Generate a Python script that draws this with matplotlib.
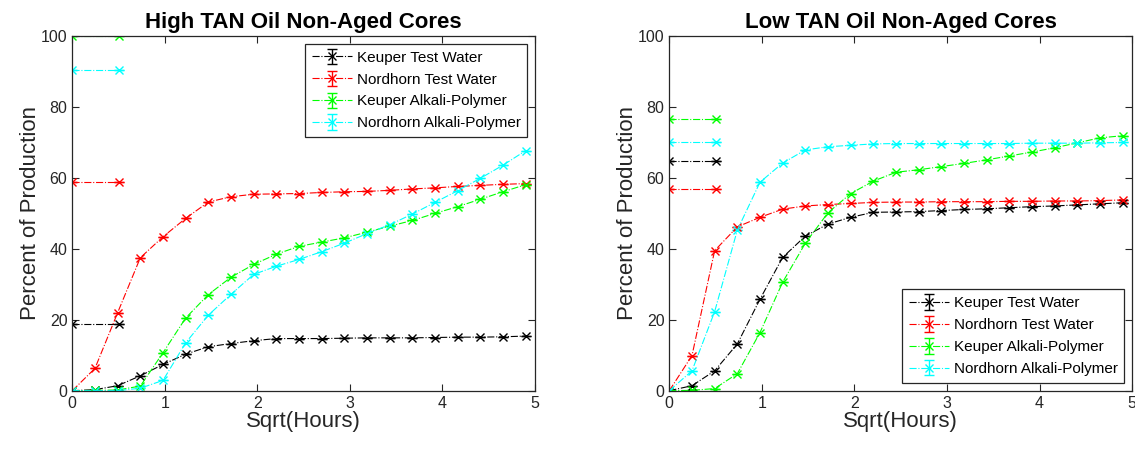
import numpy as np
import matplotlib
matplotlib.use("Agg")
import matplotlib.pyplot as plt

plt.rcParams['font.family'] = ['Liberation Sans', 'DejaVu Sans']

# sqrt(hours) sampling points
sqrt_hours = [0.0, 0.245, 0.49, 0.735, 0.98, 1.225, 1.47, 1.715, 1.96, 2.205,
              2.449, 2.694, 2.939, 3.184, 3.429, 3.674, 3.919, 4.164, 4.409,
              4.654, 4.899]

series_names = ["Keuper Test Water", "Nordhorn Test Water",
                "Keuper Alkali-Polymer", "Nordhorn Alkali-Polymer"]
series_colors = ["#000000", "#ff0000", "#00ff00", "#00ffff"]

# High TAN oil, non-aged cores (percent of production)
high_keuper_tw = [0.0, 0.3, 1.4, 4.2, 7.4, 10.3, 12.4, 13.3, 14.1, 14.7, 14.7,
                  14.7, 14.8, 14.9, 14.9, 14.9, 15.0, 15.1, 15.1, 15.2, 15.4]
high_nordhorn_tw = [0.0, 6.3, 22.0, 37.5, 43.4, 48.6, 53.2, 54.7, 55.4, 55.5,
                    55.6, 55.9, 56.1, 56.2, 56.5, 56.9, 57.2, 57.6, 57.9, 58.2, 58.4]
high_keuper_ap = [0.0, 0.1, 0.2, 1.3, 10.7, 20.5, 27.1, 32.0, 35.6, 38.5, 40.7,
                  41.9, 43.1, 44.7, 46.4, 48.0, 50.0, 51.9, 54.0, 56.1, 58.1]
high_nordhorn_ap = [0.0, 0.0, 0.0, 0.7, 2.9, 13.5, 21.3, 27.2, 32.8, 35.1, 37.0,
                    39.2, 41.6, 44.3, 46.8, 49.8, 53.1, 56.4, 59.9, 63.6, 67.7]
high_reference = [18.9, 58.9, 100.0, 90.3]

# Low TAN oil, non-aged cores (percent of production)
low_keuper_tw = [0.0, 1.4, 5.6, 13.2, 25.8, 37.6, 43.6, 47.0, 48.9, 50.3, 50.4,
                 50.5, 50.8, 51.1, 51.3, 51.6, 51.9, 52.1, 52.4, 52.7, 53.0]
low_nordhorn_tw = [0.0, 9.9, 39.5, 46.2, 48.9, 51.2, 52.1, 52.5, 52.8, 53.1, 53.2,
                   53.2, 53.3, 53.3, 53.3, 53.4, 53.4, 53.5, 53.5, 53.6, 53.8]
low_keuper_ap = [0.0, 0.1, 0.6, 4.8, 16.4, 30.6, 41.6, 50.2, 55.6, 59.1, 61.6,
                 62.3, 63.2, 64.1, 65.1, 66.2, 67.3, 68.5, 69.9, 71.3, 71.9]
low_nordhorn_ap = [0.0, 5.6, 22.3, 45.3, 58.8, 64.2, 67.9, 68.8, 69.2, 69.6, 69.7,
                   69.7, 69.7, 69.7, 69.7, 69.7, 69.8, 69.8, 69.8, 69.9, 70.0]
low_reference = [64.7, 56.8, 76.5, 70.0]

reference_span = [0.0, 0.5]

panels = [
    ("High TAN Oil Non-Aged Cores",
     [high_keuper_tw, high_nordhorn_tw, high_keuper_ap, high_nordhorn_ap],
     high_reference, "upper right"),
    ("Low TAN Oil Non-Aged Cores",
     [low_keuper_tw, low_nordhorn_tw, low_keuper_ap, low_nordhorn_ap],
     low_reference, "lower right"),
]

fig = plt.figure(figsize=(11.35, 4.5), dpi=100)
axes_rects = [[0.0637, 0.1318, 0.4077, 0.788], [0.5897, 0.1318, 0.4077, 0.788]]
text_color = "#262626"

style = dict(linestyle='-.', linewidth=0.8, marker='x', markersize=5.5,
             markeredgewidth=1.0, capsize=3.5, capthick=1.0, elinewidth=1.0)

for rect, (title, data, refs, loc) in zip(axes_rects, panels):
    ax = fig.add_axes(rect)
    handles = []
    for name, color, values, ref in zip(series_names, series_colors, data, refs):
        h = ax.errorbar(sqrt_hours, values, yerr=np.zeros(len(values)),
                        color=color, ecolor=color, label=name, **style)
        handles.append(h)
        ax.errorbar(reference_span, [ref, ref], yerr=[0, 0],
                    color=color, ecolor=color, **style)
    ax.set_xlim(0, 5)
    ax.set_ylim(0, 100)
    ax.set_xticks([0, 1, 2, 3, 4, 5])
    ax.set_yticks([0, 20, 40, 60, 80, 100])
    ax.tick_params(direction='in', top=True, right=True, labelsize=11.5,
                   colors=text_color, length=5, width=0.8, pad=3.5)
    for sp in ax.spines.values():
        sp.set_color(text_color)
        sp.set_linewidth(0.9)
    ax.set_title(title, fontsize=16, fontweight='bold', color='black', pad=6)
    ax.set_xlabel("Sqrt(Hours)", fontsize=16, color=text_color, labelpad=0)
    ax.set_ylabel("Percent of Production", fontsize=16, color=text_color, labelpad=0)
    leg = ax.legend(handles=handles, loc=loc, fontsize=11, fancybox=False,
                    edgecolor=text_color, framealpha=1, handlelength=2.6,
                    borderaxespad=0.5, labelspacing=0.52, handletextpad=0.3,
                    borderpad=0.45)
    leg.get_frame().set_linewidth(0.9)

fig.savefig("out.png", dpi=100)
